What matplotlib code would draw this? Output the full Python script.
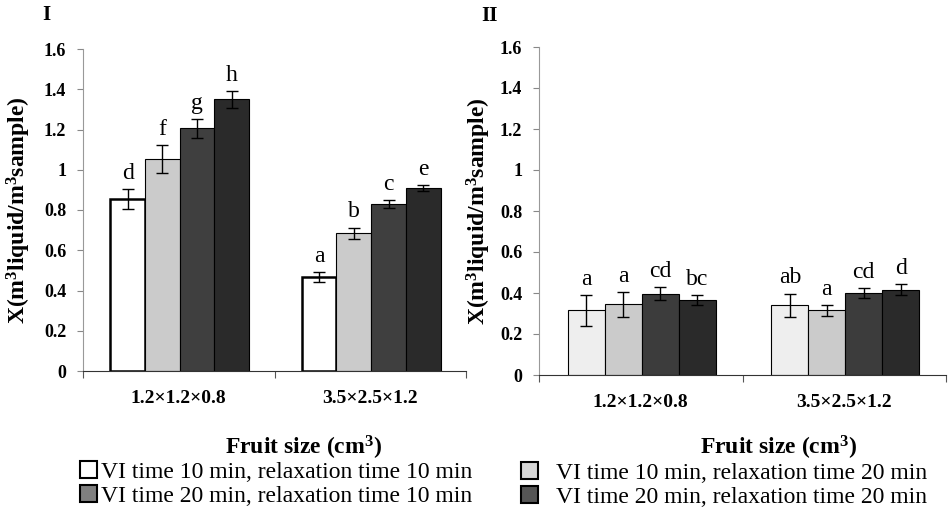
import matplotlib
matplotlib.use("Agg")
import matplotlib.pyplot as plt
from matplotlib.patches import Patch
from matplotlib.ticker import FuncFormatter
import numpy as np

plt.rcParams['font.family'] = ['Liberation Serif', 'DejaVu Serif']
plt.rcParams['mathtext.fontset'] = 'custom'
plt.rcParams['mathtext.rm'] = 'Liberation Serif'
plt.rcParams['mathtext.bf'] = 'Liberation Serif:bold'
plt.rcParams['mathtext.default'] = 'bf'

categories = ["1.2\u00d71.2\u00d70.8", "3.5\u00d72.5\u00d71.2"]
series = ["VI time 10 min, relaxation time 10 min",
          "VI time 10 min, relaxation time 20 min",
          "VI time 20 min, relaxation time 10 min",
          "VI time 20 min, relaxation time 20 min"]

# Panel I values (rows: series, cols: categories)
p1_vals = [[0.855, 0.465], [1.055, 0.685], [1.205, 0.830], [1.350, 0.910]]
p1_err = [[0.050, 0.025], [0.070, 0.028], [0.045, 0.020], [0.042, 0.015]]
p1_letters = [["d", "a"], ["f", "b"], ["g", "c"], ["h", "e"]]

# Panel II values
p2_vals = [[0.315, 0.340], [0.345, 0.315], [0.397, 0.402], [0.366, 0.417]]
p2_err = [[0.075, 0.057], [0.060, 0.028], [0.030, 0.024], [0.023, 0.026]]
p2_letters = [["a", "ab"], ["a", "a"], ["cd", "cd"], ["bc", "d"]]

yticks = [0, 0.2, 0.4, 0.6, 0.8, 1.0, 1.2, 1.4, 1.6]

p1_colors = ["white", "#cbcbcb", "#3f3f3f", "#2a2a2a"]
p2_colors = ["#eeeeee", "#cbcbcb", "#3c3c3c", "#2a2a2a"]
legend_colors = ["white", "#d6d6d6", "#7f7f7f", "#555555"]

fig = plt.figure(figsize=(9.51, 5.15), dpi=100)
ax1 = fig.add_axes([83/951, 1-371/515, (466-83)/951, (371-49)/515])
ax2 = fig.add_axes([539/951, 1-375/515, (946-539)/951, (375-47)/515])

def fmt(v, pos):
    s = f"{v:.1f}"
    return "0" if v == 0 else ("1" if abs(v-1) < 1e-9 else s)

def draw(ax, vals, errs, letters, colors, first_thick):
    bw = 0.1815
    centers = np.array([0.505, 1.505])
    for i in range(4):
        x = centers + (i - 1.5) * bw
        lw = 1.8 if (first_thick and i == 0) else 0.8
        ax.bar(x, vals[i], width=bw, color=colors[i], edgecolor="black",
               linewidth=lw, zorder=2)
        ax.errorbar(x, vals[i], yerr=errs[i], fmt="none", ecolor="black",
                    elinewidth=1.0, capsize=4, capthick=1.0, zorder=3)
        for j in range(2):
            ax.text(x[j], vals[i][j] + errs[i][j] + 0.025, letters[i][j],
                    ha="center", va="bottom", fontsize=17)
    ax.set_xlim(0, 2)
    ax.set_ylim(0, 1.6)
    ax.set_yticks(yticks)
    ax.yaxis.set_major_formatter(FuncFormatter(fmt))
    ax.set_xticks([0, 1, 2])
    ax.set_xticklabels([])
    ax.set_xticks([0.5, 1.5], minor=True)
    ax.set_xticklabels(categories, minor=True, fontsize=14, fontweight="bold")
    ax.tick_params(axis="x", which="minor", length=0, pad=14)
    ax.tick_params(axis="x", which="major", length=5, direction="out", color="#555555")
    ax.tick_params(axis="y", length=4, color="#888888", labelsize=13, pad=8)
    for lab in ax.get_yticklabels():
        lab.set_fontweight("bold")
    for s in ["top", "right"]:
        ax.spines[s].set_visible(False)
    ax.spines["left"].set_color("#999999")
    ax.spines["bottom"].set_color("#333333")
    ax.set_ylabel("X(m$^3$liquid/m$^3$sample)", fontsize=17, fontweight="bold")
    ax.set_xlabel("Fruit size (cm$^3$)", fontsize=17, fontweight="bold")

draw(ax1, p1_vals, p1_err, p1_letters, p1_colors, True)
draw(ax2, p2_vals, p2_err, p2_letters, p2_colors, False)

ax1.yaxis.set_label_coords(-50/383, 0.5)
ax2.yaxis.set_label_coords(-46/407, 0.5)
ax1.xaxis.set_label_coords((303-83)/383, -(434-371)/322)
ax2.xaxis.set_label_coords((778-539)/407, -(434-375)/328)

fig.text(46/951, 1-15/515, "I", fontsize=15, fontweight="bold", ha="center", va="center")
fig.text(490/951, 1-16/515, "II", fontsize=15, fontweight="bold", ha="center", va="center")

h_left = [Patch(facecolor=legend_colors[0], edgecolor="black", linewidth=1.5),
          Patch(facecolor=legend_colors[2], edgecolor="black", linewidth=1.5)]
h_right = [Patch(facecolor=legend_colors[1], edgecolor="black", linewidth=1.5),
           Patch(facecolor=legend_colors[3], edgecolor="black", linewidth=1.5)]
kw = dict(frameon=False, fontsize=17, handlelength=0.7, handleheight=0.7,
          handletextpad=0.2, labelspacing=0.1, borderpad=0, borderaxespad=0)
fig.legend(h_left, [series[0], series[2]], loc="center left",
           bbox_to_anchor=(80/951, 1-484/515), **kw)
kw2 = dict(kw); kw2["handletextpad"] = 0.8
fig.legend(h_right, [series[1], series[3]], loc="center left",
           bbox_to_anchor=(521/951, 1-485/515), **kw2)

fig.savefig("out.png", dpi=100)
